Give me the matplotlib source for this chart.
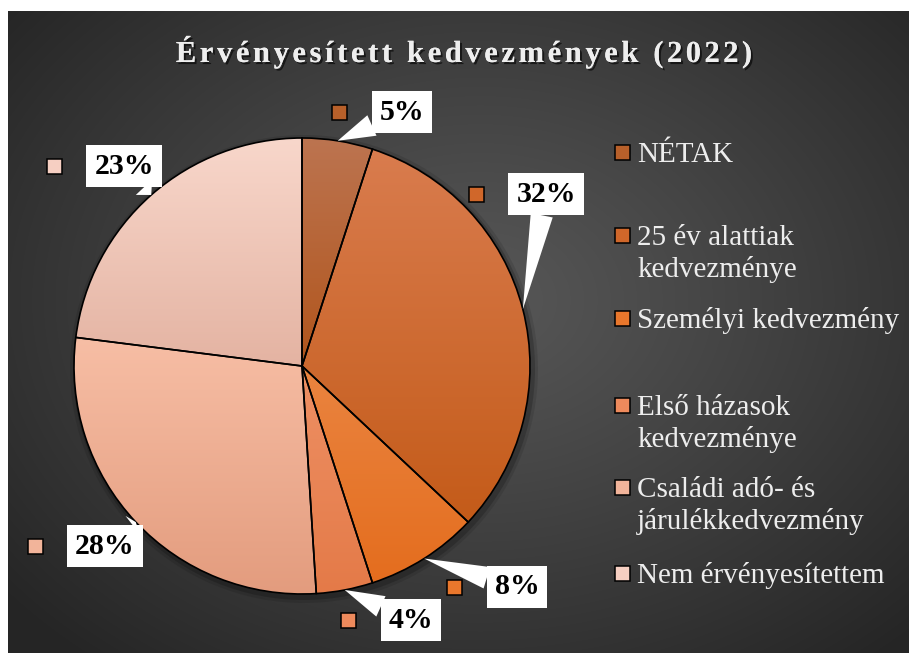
import numpy as np
import matplotlib
matplotlib.use('Agg')
import matplotlib.pyplot as plt
import matplotlib.patheffects as pe
from matplotlib.colors import LinearSegmentedColormap, to_rgb
from matplotlib.patches import Rectangle, Circle
from matplotlib.font_manager import FontProperties

# data
categories = ['NÉTAK', '25 év alattiak\nkedvezménye', 'Személyi kedvezmény',
              'Első házasok\nkedvezménye', 'Családi adó- és\njárulékkedvezmény',
              'Nem érvényesítettem']
values = [5, 32, 8, 4, 28, 23]
title = 'Érvényesített kedvezmények (2022)'

# colours: base (legend), gradient top, gradient bottom
base_colors = ['#B8602A', '#D0672A', '#E9772C', '#EE8A5C', '#F2B49A', '#F6CFC2']
top_colors = ['#BC7450', '#D97C4E', '#EA8440', '#EE9064', '#F7BEA5', '#F8D7CB']
bottom_colors = ['#B1551C', '#C45B19', '#E46D1E', '#E47A48', '#E39C7E', '#E4B3A2']

# layout (pixels, measured from top-left)
W, H = 909, 653
pie_cx, pie_cy, pie_r = 302, 366, 228
label_pos = [(402, 112), (546, 194), (517, 587), (411, 620), (105, 546), (124, 166)]
legend_marker_y = [152, 235, 318, 405, 487, 573]

fig = plt.figure(figsize=(W / 100, H / 100), dpi=100, facecolor='white')
ax = fig.add_axes([0, 0, 1, 1])

# dark radial background
yy, xx = np.mgrid[0:H, 0:W]
d = np.sqrt(((xx - 480) / 620.0) ** 2 + ((yy - 300) / 470.0) ** 2)
d = np.clip(d, 0, 1) ** 1.1
c0 = np.array(to_rgb('#575757'))
c1 = np.array(to_rgb('#252525'))
bg = c0[None, None, :] * (1 - d[..., None]) + c1[None, None, :] * d[..., None]
bg[(xx < 8) | (yy < 11)] = 1.0
ax.imshow(bg, extent=(0, W, 0, H), origin='upper', zorder=0, aspect='auto')

# pie
center = (pie_cx, H - pie_cy)
wedges, _ = ax.pie(values, startangle=90, counterclock=False, center=center,
                   radius=pie_r, colors=base_colors,
                   wedgeprops=dict(edgecolor='black', linewidth=1.2))

# soft shadow under the pie
for rr, al in [(pie_r + 6, 0.10), (pie_r + 3, 0.18)]:
    ax.add_patch(Circle((center[0] + 2, center[1] - 3), rr, fc='black', ec='none',
                        alpha=al, zorder=1))

grad = np.linspace(0, 1, 256).reshape(-1, 1)
for w, tc, bc in zip(wedges, top_colors, bottom_colors):
    ext = w.get_path().get_extents()
    cmap = LinearSegmentedColormap.from_list('g', [tc, bc])
    im = ax.imshow(grad, extent=(ext.x0, ext.x1, ext.y0, ext.y1), origin='upper',
                   cmap=cmap, aspect='auto', zorder=2, interpolation='bilinear')
    im.set_clip_path(w)
    w.set_facecolor('none')
    w.set_zorder(3)

ax.set_xlim(0, W)
ax.set_ylim(0, H)
ax.set_aspect('auto')
ax.axis('off')

# data labels with callout pointers
anns = []
for w, val, (bx, by) in zip(wedges, values, label_pos):
    th = np.deg2rad((w.theta1 + w.theta2) / 2)
    tip = (center[0] + pie_r * np.cos(th), center[1] + pie_r * np.sin(th))
    a = ax.annotate(f'{val}%', xy=tip, xytext=(bx, H - by), ha='center', va='center',
                    fontsize=21.5, fontweight='bold', family='Liberation Serif', color='black',
                    bbox=dict(boxstyle='square,pad=0.26', fc='white', ec='none'),
                    arrowprops=dict(arrowstyle='wedge,tail_width=0.75,shrink_factor=0.5',
                                    fc='white', ec='none', shrinkA=0, shrinkB=0),
                    zorder=5)
    anns.append(a)

fig.canvas.draw()
renderer = fig.canvas.get_renderer()

for a, col in zip(anns, base_colors):
    bb = a.get_bbox_patch().get_window_extent(renderer)
    mx, my = bb.x0 - 32, (bb.y0 + bb.y1) / 2
    ax.add_patch(Rectangle((mx - 7.5, my - 7.5), 15, 15, fc=col, ec='black', lw=1.1, zorder=5))

# legend
for cat, col, my in zip(categories, base_colors, legend_marker_y):
    ax.add_patch(Rectangle((622 - 7.5, H - my - 7.5), 15, 15, fc=col, ec='black',
                           lw=1.1, zorder=5))
    for k, line in enumerate(cat.split('\n')):
        ax.text(637, H - (my + 10 + 32 * k), line, ha='left', va='baseline',
                fontsize=21, family='Liberation Serif', color='#EDEDED', zorder=5)

# title with letter spacing
fp = FontProperties(family='Liberation Serif', weight='bold', size=22)
space_w = 0.25 * 22 * 100 / 72
widths = []
for ch in title:
    if ch == ' ':
        widths.append(space_w)
    else:
        widths.append(renderer.get_text_width_height_descent(ch, fp, ismath=False)[0])
spacing = 3.6
total = sum(widths) + spacing * (len(title) - 1)
x = 464 - total / 2
for ch, cw in zip(title, widths):
    if ch != ' ':
        ax.text(x, H - 62, ch, ha='left', va='baseline', fontproperties=fp,
                color='#EEEEEE', zorder=6,
                path_effects=[pe.withSimplePatchShadow(offset=(1.5, -1.5),
                                                       shadow_rgbFace='black', alpha=0.6),
                              pe.Normal()])
    x += cw + spacing

fig.savefig('out.png', dpi=100)
